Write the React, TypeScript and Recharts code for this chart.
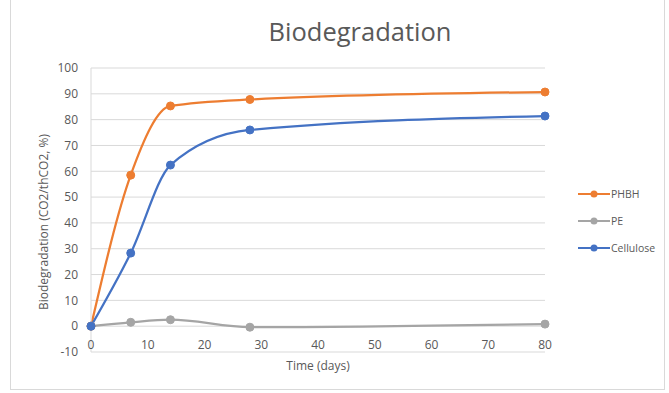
import { CartesianGrid, Line, LineChart, XAxis, YAxis } from "recharts";

const days = [0, 7, 14, 28, 80];
const phbh = [0, 58.5, 85.3, 87.8, 90.7];
const pe = [0, 1.5, 2.5, -0.4, 0.8];
const cellulose = [0, 28.3, 62.4, 76, 81.4];

const xTicks = [0, 10, 20, 30, 40, 50, 60, 70, 80];
const yTicks = [-10, 0, 10, 20, 30, 40, 50, 60, 70, 80, 90, 100];

const ORANGE = "#ED7D31";
const GRAY = "#A5A5A5";
const BLUE = "#4472C4";
const TEXT = "#595959";
const GRID = "#D9D9D9";
const FONT = "'Open Sans', 'Liberation Sans', sans-serif";

const seriesList = [
  { key: "PHBH", color: ORANGE },
  { key: "PE", color: GRAY },
  { key: "Cellulose", color: BLUE },
];

const data = days.map((d, i) => ({
  day: d,
  PHBH: phbh[i],
  PE: pe[i],
  Cellulose: cellulose[i],
}));

// x labels sit just under the 0 line, like Excel's axis-crossing-at-zero
function XTick(props: any) {
  const { x, y, payload } = props;
  return (
    <text x={x} y={y - 11} textAnchor="middle" fill={TEXT} fontSize={12} fontFamily={FONT}>
      {payload.value}
    </text>
  );
}

function LegendBox() {
  return (
    <div style={{ position: "absolute", left: 578, top: 180, fontFamily: FONT, fontSize: 10.5, color: TEXT }}>
      {seriesList.map((s) => (
        <div key={s.key} style={{ display: "flex", alignItems: "center", height: 27 }}>
          <svg width={32} height={10}>
            <line x1={0} y1={5} x2={32} y2={5} stroke={s.color} strokeWidth={2} />
            <circle cx={16} cy={5} r={3.5} fill={s.color} />
          </svg>
          <span style={{ marginLeft: 1 }}>{s.key}</span>
        </div>
      ))}
    </div>
  );
}

export default function App() {
  return (
    <div style={{ position: "relative", width: 669, height: 393, background: "#fff" }}>
      <style>{`body{margin:0}`}</style>
      <div
        style={{
          position: "absolute",
          left: 10,
          top: 0,
          width: 655,
          height: 390,
          border: `1px solid ${GRID}`,
          borderTop: "none",
          boxSizing: "border-box",
        }}
      />
      <div
        style={{
          position: "absolute",
          top: 14,
          left: 240,
          width: 240,
          textAlign: "center",
          fontFamily: FONT,
          fontSize: 25.5,
          color: TEXT,
        }}
      >
        Biodegradation
      </div>
      <LineChart
        width={669}
        height={393}
        data={data}
        margin={{ top: 68, right: 124, bottom: 11, left: 36 }}
        style={{ position: "absolute", left: 0, top: 0 }}
      >
        <CartesianGrid horizontal vertical={false} stroke={GRID} />
        <XAxis
          dataKey="day"
          type="number"
          domain={[0, 80]}
          ticks={xTicks}
          axisLine={false}
          tickLine={false}
          tick={<XTick />}
          height={30}
          label={{ value: "Time (days)", position: "insideBottom", offset: 12, fill: TEXT, fontSize: 12, fontFamily: FONT }}
        />
        <YAxis
          type="number"
          domain={[-10, 100]}
          ticks={yTicks}
          interval={0}
          width={55}
          axisLine={{ stroke: GRID }}
          tickLine={false}
          tickMargin={7}
          tick={{ fill: TEXT, fontSize: 12, fontFamily: FONT }}
          label={{
            value: "Biodegradation (CO2/thCO2, %)",
            angle: -90,
            position: "insideLeft",
            offset: 8,
            dy: 100,
            fill: TEXT,
            fontSize: 12,
            fontFamily: FONT,
          }}
        />
        {seriesList.map((s) => (
          <Line
            key={s.key}
            type="monotone"
            dataKey={s.key}
            stroke={s.color}
            strokeWidth={2.25}
            dot={{ r: 4, fill: s.color, stroke: s.color, strokeWidth: 1 }}
            activeDot={false}
            isAnimationActive={false}
          />
        ))}
      </LineChart>
      <LegendBox />
    </div>
  );
}
